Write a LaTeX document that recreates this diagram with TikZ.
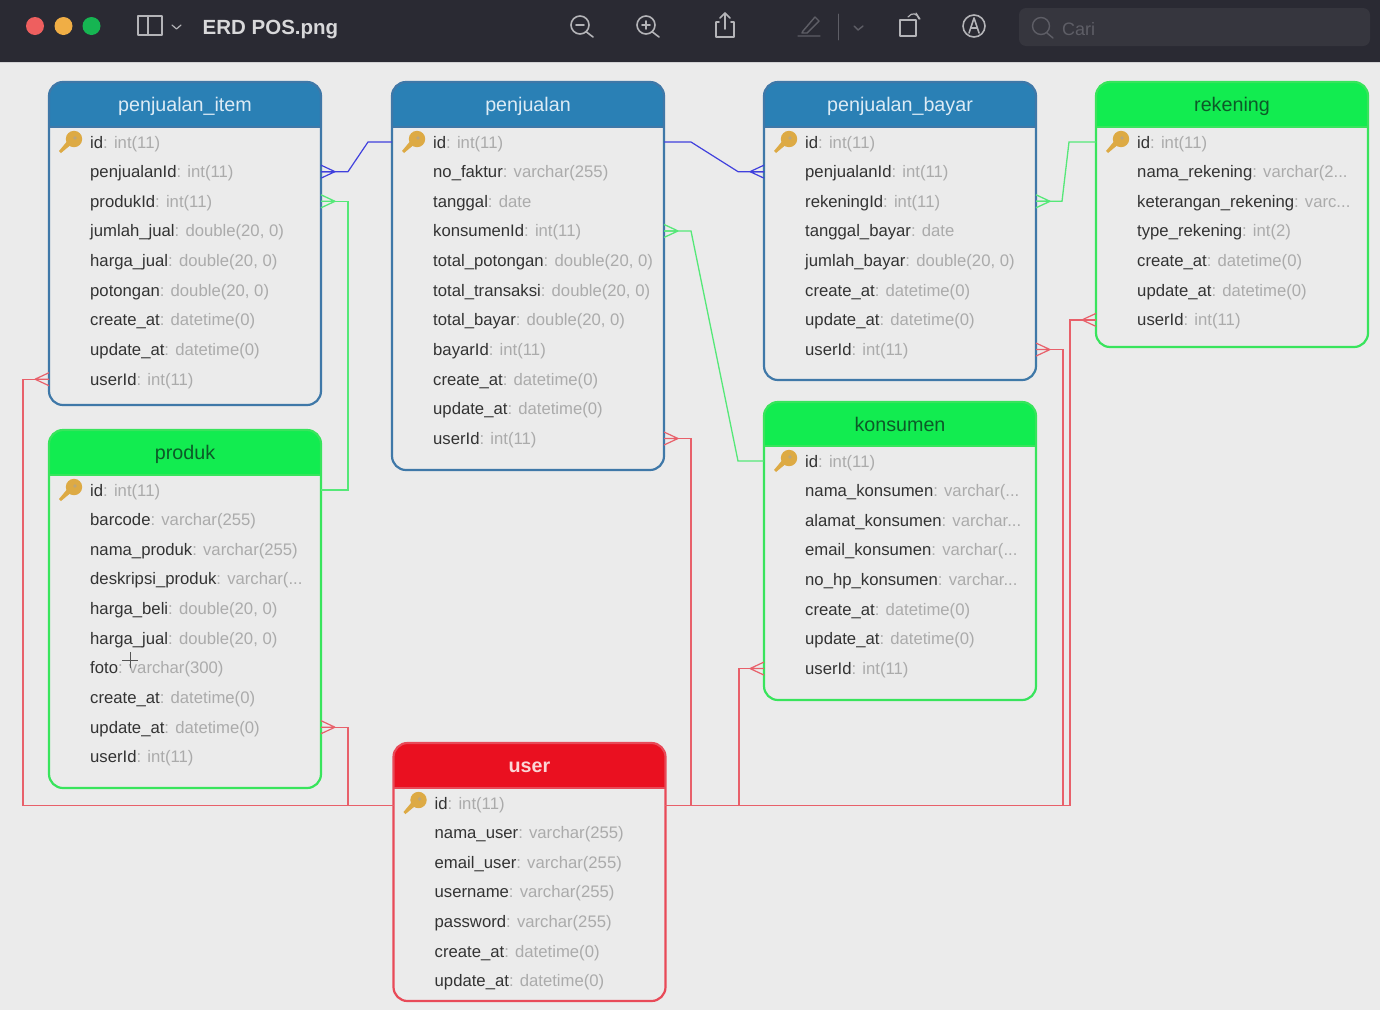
\documentclass[tikz,border=0pt]{standalone}
\usepackage{fontspec}
\setmainfont{Liberation Sans}
\usetikzlibrary{calc}
\newcommand{\tdots}{...}
\definecolor{pagebg}{HTML}{EBEBEB}
\definecolor{barbg}{HTML}{2A2A33}
\definecolor{barfg}{HTML}{B4B4B8}
\definecolor{bardim}{HTML}{5E5E66}
\definecolor{blueH}{HTML}{2A80B5}
\definecolor{blueB}{HTML}{3F78A8}
\definecolor{blueT}{HTML}{DCEBF5}
\definecolor{greenH}{HTML}{12EC50}
\definecolor{greenB}{HTML}{38E45C}
\definecolor{greenT}{HTML}{0C5A28}
\definecolor{redH}{HTML}{EA1020}
\definecolor{redB}{HTML}{E84A58}
\definecolor{redT}{HTML}{FBD6D6}
\definecolor{namec}{HTML}{333333}
\definecolor{typec}{HTML}{ABABAB}
\definecolor{keyc}{HTML}{DDAA44}
\definecolor{lnblue}{HTML}{4040DD}
\definecolor{lngreen}{HTML}{55E878}
\definecolor{lnred}{HTML}{E8606A}
\definecolor{dotred}{HTML}{EE5F5F}
\definecolor{dotyellow}{HTML}{F0AE45}
\definecolor{dotgreen}{HTML}{16B552}
\definecolor{titlec}{HTML}{D8D8DA}
\definecolor{searchbg}{HTML}{36363E}
\definecolor{cursorc}{HTML}{555555}
\tikzset{
  x=1pt,y=-1pt,
  rowtext/.style={anchor=base west,inner sep=0pt,font=\fontsize{16.7}{18}\selectfont},
  titletext/.style={anchor=base,inner sep=0pt,font=\fontsize{19.7}{22}\selectfont},
  tablebox/.style={draw,line width=2.2pt,rounded corners=14pt,minimum width=272pt,inner sep=0pt,outer sep=0pt},
  relblue/.style={draw=lnblue,line width=1.2pt},
  relgreen/.style={draw=lngreen,line width=1.3pt},
  relred/.style={draw=lnred,line width=1.2pt},
  toolicon/.style={draw=barfg,line width=1.6pt,line cap=round,line join=round},
  tooldim/.style={draw=bardim,line width=1.4pt,line cap=round,line join=round},
}
% id, x, top, height, header bottom, scheme, title, rows
\newcommand{\erdtable}[8]{
  \fill[#6H] (#2,#5) [rounded corners=14pt] -- (#2,#3) -- (#2+272,#3) [sharp corners] -- (#2+272,#5) -- cycle;
  \draw[#6B,line width=1.6pt] (#2,#5) -- (#2+272,#5);
  \node[tablebox,draw=#6B,minimum height=#4 pt,anchor=north west] (#1) at (#2,#3) {};
  \node[titletext,text=#6T] (#1-title) at ({#2+136},{(#3+#5)/2+7}) {#7};
  \foreach \nm/\ty [count=\i] in {#8}{
    \pgfmathsetmacro{\ry}{#5+15+(\i-1)*29.65}
    \coordinate (#1-r\i-l) at (#2,\ry);
    \coordinate (#1-r\i-r) at (#2+272,\ry);
    \node[rowtext] (#1-t\i) at (#2+41,\ry+6) {\textcolor{namec}{\nm}\textcolor{typec}{: \ty}};
  }
  \begin{scope}[shift={(#2+22,#5+15)}]
    \fill[keyc] (-10,11) -- (-12,9) -- (-2,-3) -- (2,1) -- cycle;
    \fill[keyc] (3,-3) circle (8.2);
    \fill[keyc!70!black!60!pagebg] (4,-4) circle (1.8);
  \end{scope}
}
\newcommand{\crow}[3]{% coordinate, direction, style
  \draw[#3] ($(#1)+(#2*14,0)$) -- ($(#1)+(0,-6.5)$)
            ($(#1)+(#2*14,0)$) -- (#1)
            ($(#1)+(#2*14,0)$) -- ($(#1)+(0,6.5)$);
}
\begin{document}
\begin{tikzpicture}
\useasboundingbox (0,0) rectangle (1380,1010);
\fill[pagebg] (0,0) rectangle (1380,1010);
% toolbar
\fill[barbg] (0,0) rectangle (1380,62);
\draw[barfg!60,line width=.8pt] (0,62.5) -- (1380,62.5);
\fill[dotred] (35,26) circle (9);
\fill[dotyellow] (63.5,26) circle (9);
\fill[dotgreen] (91.5,26) circle (9);
\draw[toolicon] (138,16) rectangle (162,35) (148,16) -- (148,35);
\draw[toolicon,line width=1.2pt] (172,25) -- (176.5,29) -- (181,25);
\node[anchor=base west,inner sep=0pt,text=titlec,font=\bfseries\fontsize{20.5}{22}\selectfont] (filename) at (202.5,34) {ERD POS.png};
\draw[toolicon] (580,25) circle (9) (586.5,32) -- (593,37) (576,25) -- (584,25);
\draw[toolicon] (646,25) circle (9) (652.5,32) -- (659,37) (642,25) -- (650,25) (646,21) -- (646,29);
\draw[toolicon] (719,22) -- (716,22) -- (716,37) -- (734,37) -- (734,22) -- (731,22) (725,29) -- (725,13) (720,18) -- (725,13) -- (730,18);
\draw[tooldim] (798,36) -- (820,36) (803,31) -- (815,17) -- (819,21) -- (807,33) -- (802,33) -- cycle;
\draw[tooldim,line width=.8pt] (838,14) -- (838,40);
\draw[tooldim] (854,26) -- (858,30) -- (863,26);
\draw[toolicon] (900,20) rectangle (916,36);
\draw[toolicon,line width=1.2pt] (908,17) .. controls (912,12) and (917,13) .. (919,19) (916,13) -- (920,19);
\draw[toolicon] (974,26) circle (11) (969,33) -- (974,18) -- (979,33) (971,28) -- (977,28);
\fill[searchbg,rounded corners=7pt] (1019,8) rectangle (1370,46);
\draw[tooldim] (1041,26) circle (8.5) (1047,33) -- (1053,38);
\node[anchor=base west,inner sep=0pt,text=bardim,font=\fontsize{18}{20}\selectfont] (search) at (1062,35) {Cari};
% tables
\erdtable{item}{49}{82}{323}{127}{blue}{penjualan\_item}{
 id/int(11),penjualanId/int(11),produkId/int(11),jumlah\_jual/{double(20, 0)},harga\_jual/{double(20, 0)},potongan/{double(20, 0)},create\_at/datetime(0),update\_at/datetime(0),userId/int(11)}
\erdtable{sale}{392}{82}{388}{127}{blue}{penjualan}{
 id/int(11),no\_faktur/varchar(255),tanggal/date,konsumenId/int(11),total\_potongan/{double(20, 0)},total\_transaksi/{double(20, 0)},total\_bayar/{double(20, 0)},bayarId/int(11),create\_at/datetime(0),update\_at/datetime(0),userId/int(11)}
\erdtable{pay}{764}{82}{298}{127}{blue}{penjualan\_bayar}{
 id/int(11),penjualanId/int(11),rekeningId/int(11),tanggal\_bayar/date,jumlah\_bayar/{double(20, 0)},create\_at/datetime(0),update\_at/datetime(0),userId/int(11)}
\erdtable{bank}{1096}{82}{265}{127}{green}{rekening}{
 id/int(11),nama\_rekening/varchar(2\tdots,keterangan\_rekening/varc\tdots,type\_rekening/int(2),create\_at/datetime(0),update\_at/datetime(0),userId/int(11)}
\erdtable{prod}{49}{430}{358}{475}{green}{produk}{
 id/int(11),barcode/varchar(255),nama\_produk/varchar(255),deskripsi\_produk/varchar(\tdots,harga\_beli/{double(20, 0)},harga\_jual/{double(20, 0)},foto/varchar(300),create\_at/datetime(0),update\_at/datetime(0),userId/int(11)}
\erdtable{cust}{764}{402}{298}{446}{green}{konsumen}{
 id/int(11),nama\_konsumen/varchar(\tdots,alamat\_konsumen/varchar\tdots,email\_konsumen/varchar(\tdots,no\_hp\_konsumen/varchar\tdots,create\_at/datetime(0),update\_at/datetime(0),userId/int(11)}
\erdtable{user}{393.5}{743}{258}{788}{red}{\textbf{user}}{
 id/int(11),nama\_user/varchar(255),email\_user/varchar(255),username/varchar(255),password/varchar(255),create\_at/datetime(0),update\_at/datetime(0)}
% cursor
\draw[cursorc,line width=.7pt] (130,652) -- (130,668) (122,660) -- (138,660);
% blue connectors
\draw[relblue] (item-r2-r) -- ++(27,0) -- ($(sale-r1-l)+(-24,0)$) -- (sale-r1-l);
\crow{item-r2-r}{1}{relblue}
\draw[relblue] (sale-r1-r) -- ++(27,0) -- ($(pay-r2-l)+(-26,0)$) -- (pay-r2-l);
\crow{pay-r2-l}{-1}{relblue}
% green connectors
\draw[relgreen] (item-r3-r) -- ++(27,0) |- (prod-r1-r);
\crow{item-r3-r}{1}{relgreen}
\draw[relgreen] (sale-r4-r) -- ++(27,0) -- ($(cust-r1-l)+(-26,0)$) -- (cust-r1-l);
\crow{sale-r4-r}{1}{relgreen}
\draw[relgreen] (pay-r3-r) -- ++(26,0) -- ($(bank-r1-l)+(-27,0)$) -- (bank-r1-l);
\crow{pay-r3-r}{1}{relgreen}
% red connectors
\coordinate (userL) at (394,805.5);
\coordinate (userR) at (665,805.5);
\draw[relred] (userL) -- (23,805.5) |- (item-r9-l);
\crow{item-r9-l}{-1}{relred}
\draw[relred] (348,805.5) |- (prod-r9-r);
\crow{prod-r9-r}{1}{relred}
\draw[relred,line width=1.8pt] (userR) -- (1070,805.5);
\draw[relred] (1070,805.5) |- (bank-r7-l);
\crow{bank-r7-l}{-1}{relred}
\draw[relred] (691,805.5) |- (sale-r11-r);
\crow{sale-r11-r}{1}{relred}
\draw[relred] (739,805.5) |- (cust-r8-l);
\crow{cust-r8-l}{-1}{relred}
\draw[relred] (1063,805.5) |- (pay-r8-r);
\crow{pay-r8-r}{1}{relred}
\end{tikzpicture}
\end{document}
